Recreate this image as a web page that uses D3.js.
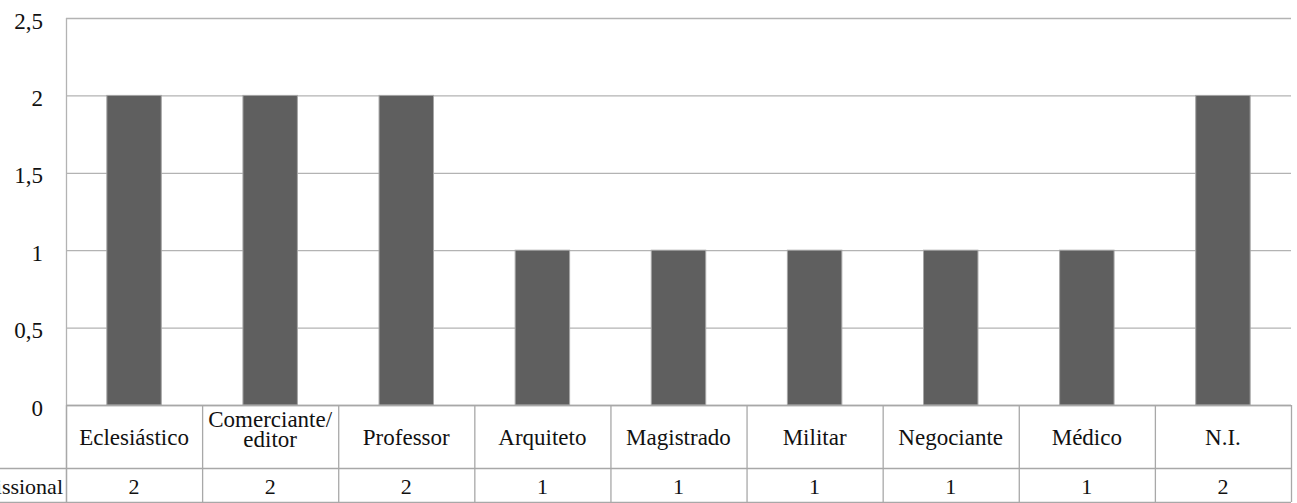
<!DOCTYPE html>
<html>
<head>
<meta charset="utf-8">
<script src="https://cdn.jsdelivr.net/npm/d3@7"></script>
<style>
  body { margin: 0; background: #fff; }
  #chart text { font-family: "Liberation Serif", "Times New Roman", Tinos, serif; }
</style>
</head>
<body>
<svg id="chart" width="1297" height="503"></svg>
<script>
// Occupations and counts
const categories = [["Eclesiástico"], ["Comerciante/", "editor"], ["Professor"], ["Arquiteto"],
                    ["Magistrado"], ["Militar"], ["Negociante"], ["Médico"], ["N.I."]];
const values = [2, 2, 2, 1, 1, 1, 1, 1, 2];
const yTicks = [0, 0.5, 1, 1.5, 2, 2.5];
const seriesName = "Profissional";

const FONT = '"Liberation Serif", "Times New Roman", Tinos, serif';

const svg = d3.select("#chart");
const plotLeft = 66, plotRight = 1291, plotTop = 18, plotBottom = 405;
const row1 = 468, row2 = 502;
const gridColor = "#b3b3b3", tableColor = "#a8a8a8", ink = "#111";

const keys = categories.map((c, i) => i);
const x = d3.scaleBand().domain(keys).range([plotLeft, plotRight]).paddingInner(0).paddingOuter(0);
const y = d3.scaleLinear().domain([0, 2.5]).range([plotBottom, plotTop]);
const fmt = v => String(v).replace(".", ",");

// Horizontal gridlines
svg.append("g").selectAll("line").data(yTicks).join("line")
  .attr("x1", plotLeft).attr("x2", plotRight)
  .attr("y1", d => y(d) + 0.5).attr("y2", d => y(d) + 0.5)
  .attr("stroke", gridColor).attr("stroke-width", 1.3);

// Y axis labels
const yAxis = d3.axisLeft(y).tickValues(yTicks).tickFormat(fmt).tickSize(0).tickPadding(23);
const ya = svg.append("g").attr("transform", `translate(${plotLeft},0)`).call(yAxis)
  .attr("font-family", null).attr("font-size", null);
ya.select(".domain").remove();
ya.selectAll("text").style("font-family", FONT).style("font-size", "23px")
  .attr("fill", ink).attr("dy", null).attr("y", 10);

// Left axis line
svg.append("line").attr("x1", plotLeft + 0.5).attr("x2", plotLeft + 0.5).attr("y1", plotTop).attr("y2", row2)
  .attr("stroke", gridColor).attr("stroke-width", 1.3);

// Bars
const bw = x.bandwidth() * 0.4;
svg.append("g").selectAll("rect").data(values).join("rect")
  .attr("x", (d, i) => x(i) + (x.bandwidth() - bw) / 2)
  .attr("width", bw)
  .attr("y", d => y(d))
  .attr("height", d => y(0) - y(d))
  .attr("fill", "#5f5f5f")
  .attr("stroke", "#a6a6a6").attr("stroke-width", 1);

// Data table below the plot
const tbl = svg.append("g");
[plotBottom, row1, row2].forEach((yy, i) => {
  tbl.append("line").attr("x1", i === 0 ? plotLeft : 0).attr("x2", plotRight)
    .attr("y1", yy + 0.5).attr("y2", yy + 0.5).attr("stroke", tableColor).attr("stroke-width", 1.3);
});
keys.concat([keys.length]).forEach(i => {
  const xx = i < keys.length ? x(i) : plotRight;
  tbl.append("line").attr("x1", xx + 0.5).attr("x2", xx + 0.5).attr("y1", plotBottom).attr("y2", row2)
    .attr("stroke", tableColor).attr("stroke-width", 1.3);
});

function label(g, px, py, size, anchor, str) {
  return g.append("text").attr("x", px).attr("y", py)
    .style("font-family", FONT).style("font-size", size + "px").attr("fill", ink)
    .attr("text-anchor", anchor).text(str);
}

// Category labels (baselines relative to the row middle)
const mid1 = (plotBottom + row1) / 2;
categories.forEach((lines, i) => {
  const cx = x(i) + x.bandwidth() / 2;
  const base = lines.length > 1 ? [mid1 - 9.5, mid1 + 10.5] : [mid1 + 8.5];
  lines.forEach((ln, j) => label(tbl, cx, base[j], 23, "middle", ln));
});

// Values row
const mid2 = (row1 + row2) / 2;
values.forEach((v, i) => label(tbl, x(i) + x.bandwidth() / 2, mid2 + 9, 22, "middle", String(v)));

// Series name
label(tbl, plotLeft - 3, mid2 + 9, 22, "end", seriesName);

// Re-apply the face once the font is ready so the text is re-laid out with it
if (document.fonts && document.fonts.load) {
  document.fonts.load('23px "Liberation Serif"').then(() => {
    svg.selectAll("text").style("font-family", FONT);
  });
}
</script>
</body>
</html>
